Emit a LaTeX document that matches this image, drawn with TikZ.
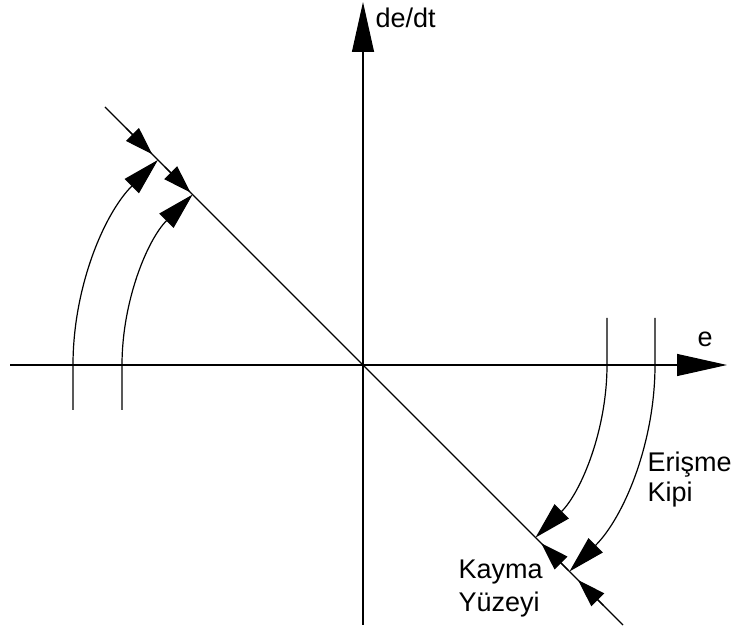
\documentclass[tikz,border=0pt]{standalone}
\usepackage{fontspec}
\setmainfont{Liberation Sans}
\usetikzlibrary{arrows.meta}
\tikzset{
  axistip/.style={-{Triangle[length=50pt,width=22pt]}},
  linetip/.style={-{Triangle[length=28pt,width=18pt]}},
  arctip/.style={-{Triangle[length=37pt,width=20pt]}},
  lbl/.style={anchor=base west,inner sep=0pt,font=\fontsize{27}{31}\selectfont}
}
\begin{document}
\begin{tikzpicture}[x=1pt,y=1pt,line width=1.2pt]
\useasboundingbox (0,0) rectangle (740,630);
%% axes
\coordinate (O) at (363,265);
\coordinate (xl) at (10,265);
\coordinate (xr) at (727,265);
\coordinate (yb) at (363,5);
\coordinate (yt) at (363,628);
\draw[axistip] (xl) to (xr);
\draw[axistip] (yb) to (yt);

%% sliding surface
\coordinate (s1) at (105,523);
\coordinate (s2) at (623,5);
\draw[-] (s1) to (s2);

%% arrows on the surface
\coordinate (la1) at (126.1,501.9);
\coordinate (lb1) at (152.3,475.7);
\coordinate (la2) at (165.0,463.0);
\coordinate (lb2) at (190.5,437.5);
\draw[linetip] (la1) to (lb1);
\draw[linetip] (la2) to (lb2);

\coordinate (ra1) at (568.1,59.9);
\coordinate (rb1) at (541.2,86.8);
\coordinate (ra2) at (603.4,24.6);
\coordinate (rb2) at (578.0,50.0);
\draw[linetip] (ra1) to (rb1);
\draw[linetip] (ra2) to (rb2);

%% reaching arcs
\coordinate (c1) at (73,220);
\coordinate (c2) at (122,220);
\coordinate (c3) at (607,312);
\coordinate (c4) at (655,312);
\draw[arctip] (c1) -- (73,265) arc[start angle=180,end angle=135,radius=290pt];
\draw[arctip] (c2) -- (122,265) arc[start angle=180,end angle=135,radius=241pt];
\draw[arctip] (c3) -- (607,265) arc[start angle=0,end angle=-45,radius=244pt];
\draw[arctip] (c4) -- (655,265) arc[start angle=0,end angle=-45,radius=292pt];

%% labels
\node[lbl] (dedt) at (375,602) {de/dt};
\node[lbl] (e) at (697,283) {e};
\node[lbl] (erisme) at (647,158) {Erişme};
\node[lbl] (kipi) at (647,128) {Kipi};
\node[lbl] (kayma) at (458,51) {Kayma};
\node[lbl] (yuzeyi) at (458,18) {Yüzeyi};
\end{tikzpicture}
\end{document}
